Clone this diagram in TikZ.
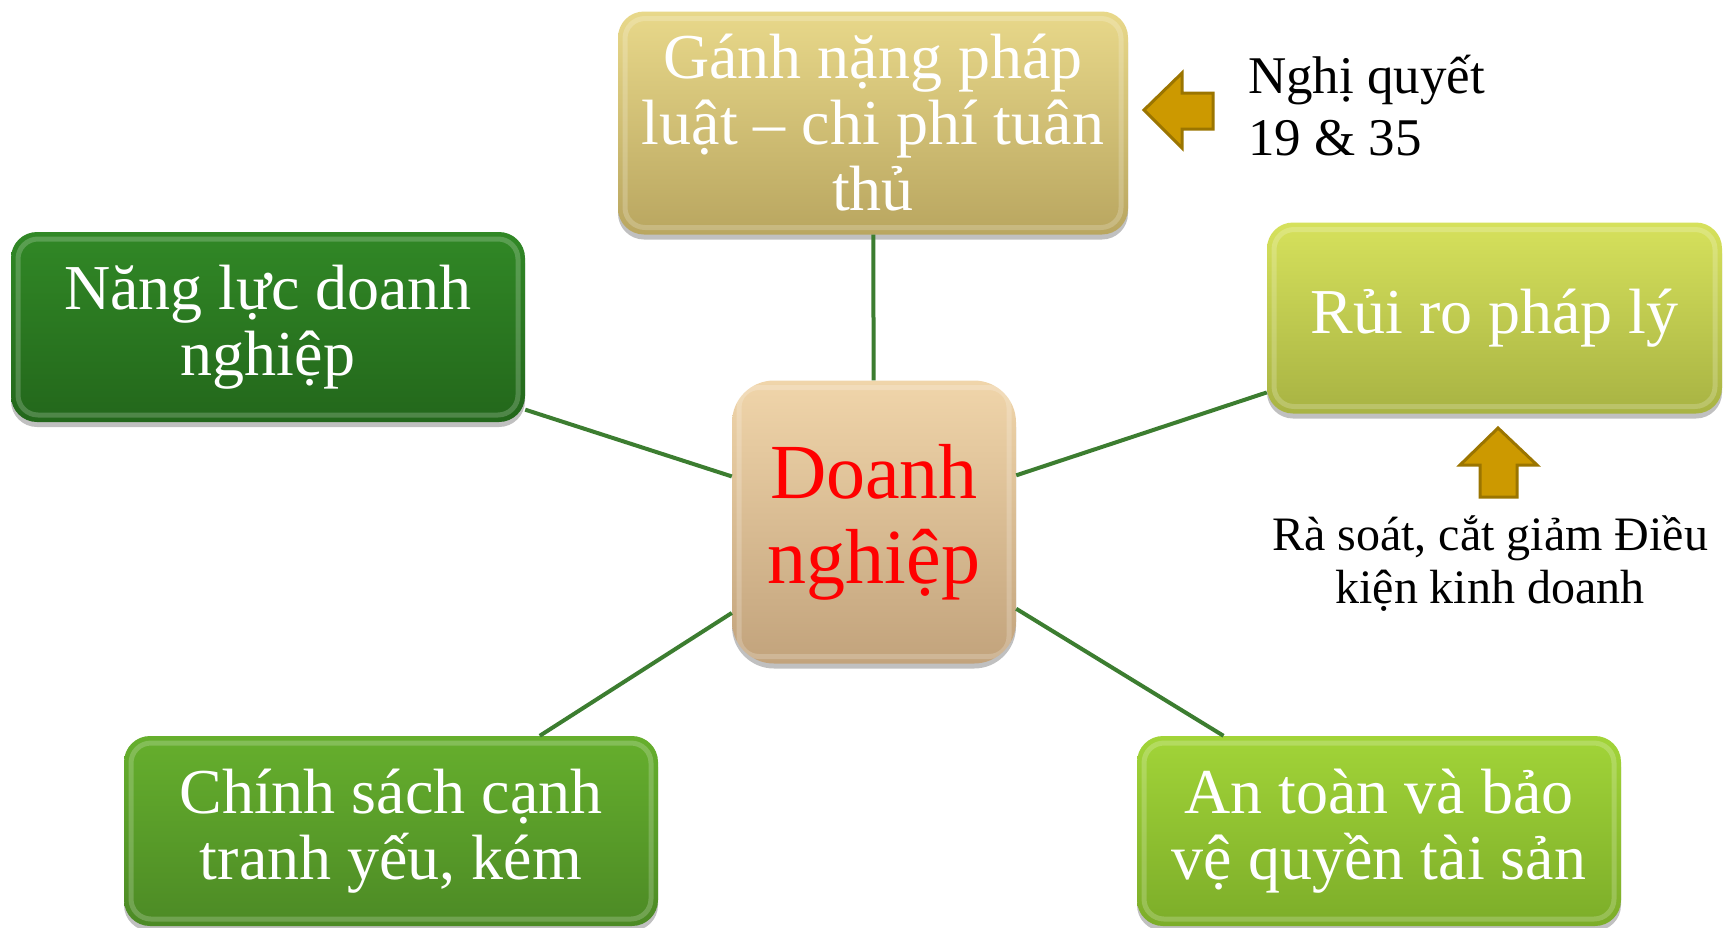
\documentclass[tikz,border=0pt]{standalone}
\usepackage{fontspec}
\setmainfont{Liberation Serif}
\usetikzlibrary{shadows}
\definecolor{goldT}{HTML}{E8D88A}
\definecolor{goldB}{HTML}{B9A660}
\definecolor{limeT}{HTML}{D6E15C}
\definecolor{limeB}{HTML}{A8B343}
\definecolor{beigeT}{HTML}{F0D5AA}
\definecolor{beigeB}{HTML}{C2A37C}
\definecolor{dgreenT}{HTML}{318826}
\definecolor{dgreenB}{HTML}{23671B}
\definecolor{mgreenT}{HTML}{66AF2D}
\definecolor{mgreenB}{HTML}{4C8A25}
\definecolor{lgreenT}{HTML}{A2D438}
\definecolor{lgreenB}{HTML}{7CAD29}
\definecolor{arrowfill}{HTML}{CC9900}
\definecolor{arrowline}{HTML}{9B7500}
\definecolor{linkgreen}{HTML}{3C7D30}
\tikzset{
  box/.style={rounded corners=26pt, inner sep=0pt, align=center, text=white,
    font=\fontsize{64}{66}\selectfont,
    drop shadow={shadow xshift=0pt, shadow yshift=-5pt, opacity=0.35, fill=black!70},
    path picture={\draw[white, opacity=0.2, line width=5pt, rounded corners=20pt]
      ([shift={(7pt,-7pt)}]path picture bounding box.north west) rectangle
      ([shift={(-7pt,7pt)}]path picture bounding box.south east);}},
  link/.style={draw=linkgreen, line width=4pt},
  fatarrow/.style={fill=arrowfill, draw=arrowline, line width=3pt, line join=miter},
  note/.style={inner sep=0pt, text=black}
}
\begin{document}
\begin{tikzpicture}[x=1pt, y=-1pt]
\useasboundingbox[fill=white] (0,0) rectangle (1731,927);
\node[box, minimum width=284pt, minimum height=283pt, rounded corners=42pt,
  top color=beigeT, bottom color=beigeB, text=red,
  font=\fontsize{78}{85}\selectfont] (c) at (874,522) {Doanh\\nghiệp};
\node[box, minimum width=510pt, minimum height=223pt,
  top color=goldT, bottom color=goldB] (top) at (873,123)
  {Gánh nặng pháp\\luật – chi phí tuân\\thủ};
\node[box, minimum width=455pt, minimum height=191pt,
  top color=limeT, bottom color=limeB] (risk) at (1494.5,318) {Rủi ro pháp lý};
\node[box, minimum width=514pt, minimum height=190pt,
  top color=dgreenT, bottom color=dgreenB] (cap) at (268,327) {Năng lực doanh\\nghiệp};
\node[box, minimum width=534pt, minimum height=190pt,
  top color=mgreenT, bottom color=mgreenB] (comp) at (391,831) {Chính sách cạnh\\tranh yếu, kém};
\node[box, minimum width=484pt, minimum height=190pt,
  top color=lgreenT, bottom color=lgreenB] (safe) at (1379,831) {An toàn và bảo\\vệ quyền tài sản};
\draw[link] (c) -- (top);
\draw[link] (c) -- (risk);
\draw[link] (c) -- (cap);
\draw[link] (c) -- (comp);
\draw[link] (c) -- (safe);
% left arrow
\draw[fatarrow] (1144,110) -- (1182,73) -- (1182,93) -- (1213,93) -- (1213,129)
  -- (1182,129) -- (1182,148) -- cycle;
\node[note, anchor=base west, align=left, font=\fontsize{53}{62}\selectfont] (nq) at (1248,155)
  {Nghị quyết\\19 \& 35};
% up arrow
\draw[fatarrow] (1498,428) -- (1537,465) -- (1517,465) -- (1517,497) -- (1480,497)
  -- (1480,465) -- (1460,465) -- cycle;
\node[note, anchor=base, align=center, font=\fontsize{48}{53}\selectfont] (rs) at (1490,603)
  {Rà soát, cắt giảm Điều\\kiện kinh doanh};
\end{tikzpicture}
\end{document}
